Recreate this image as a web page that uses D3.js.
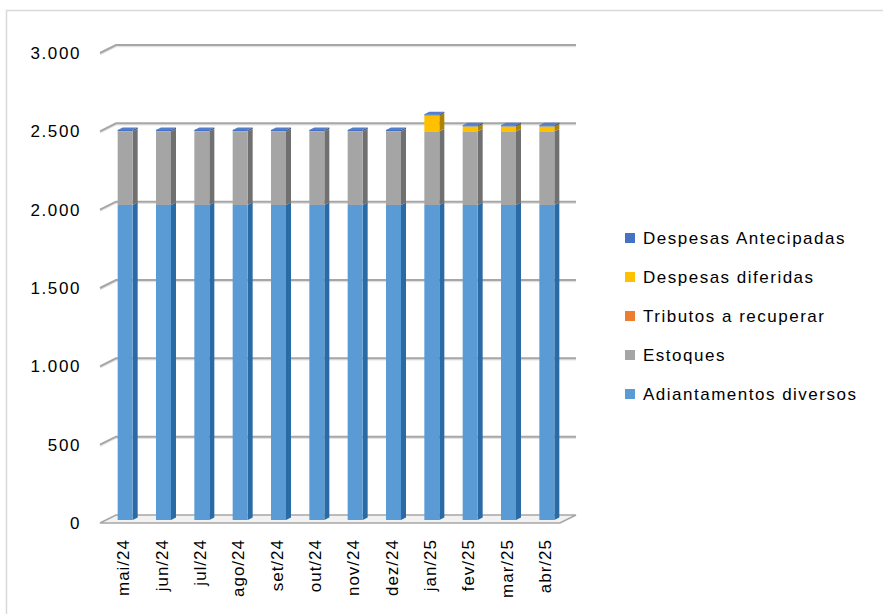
<!DOCTYPE html>
<html><head><meta charset="utf-8">
<script src="https://cdn.jsdelivr.net/npm/d3@7"></script>
<style>body{margin:0;background:#fff}svg{display:block}</style>
</head><body><svg id="c" width="883" height="614"></svg>
<script>
const categories = ["mai/24","jun/24","jul/24","ago/24","set/24","out/24","nov/24","dez/24","jan/25","fev/25","mar/25","abr/25"];
const adiantamentos = [2010,2010,2010,2010,2010,2010,2010,2010,2010,2010,2010,2010];
const estoques = [470,470,470,470,470,470,470,470,470,470,470,470];
const tributos = [2,2,2,2,2,2,2,2,2,2,2,2];
const despDiferidas = [0,0,0,0,0,0,0,0,100,30,30,30];
const despAntecipadas = [8,8,8,8,8,8,8,8,8,8,8,8];
const seriesNames = ["Adiantamentos diversos","Estoques","Tributos a recuperar","Despesas diferidas","Despesas Antecipadas"];
const seriesColors = ["#5b9bd5","#a5a5a5","#ed7d31","#ffc000","#4472c4"];
const yTicks = [0,500,1000,1500,2000,2500,3000];

const svg = d3.select("#c");
const FONT = "Liberation Sans, Arial, sans-serif";
const fmt = d3.formatLocale({decimal:",",thousands:".",grouping:[3],currency:["R$",""]}).format(",d");

// chart border
svg.append("rect").attr("x",6.5).attr("y",10.5).attr("width",900).attr("height",700)
  .attr("fill","none").attr("stroke","#d9d9d9").attr("stroke-width",1.5);

const DEPTH = 8; // wall depth; offset per depth unit = (2,-1)
const P = (x,y,d)=>[x+2*d, y-d];
const y = d3.scaleLinear().domain([0,3000]).range([523,53]);
const xFront = d3.scaleBand().domain(categories).range([100,560]);
const xBar = d3.scaleBand().domain(categories).range([106,566]);

const g = svg.append("g");
// floor
const f = [P(100,y(0),0),P(560,y(0),0),P(560,y(0),DEPTH),P(100,y(0),DEPTH)];
g.append("polygon").attr("points",f.map(p=>p.join(",")).join(" "))
  .attr("fill","#f2f2f2").attr("stroke","#a6a6a6").attr("stroke-width",1.5);

// gridlines (back wall + left wall diagonal)
yTicks.forEach(t=>{
  const yy = y(t);
  const a = P(100,yy,0), b = P(100,yy,DEPTH), c = P(560,yy,DEPTH);
  if (t>0) {
    g.append("polyline").attr("points",[[a[0],a[1]+1.5],[b[0],b[1]+1.5],[c[0],c[1]+1.5]].map(p=>p.join(",")).join(" "))
      .attr("fill","none").attr("stroke","#e3e3e3").attr("stroke-width",1.5);
    g.append("polyline").attr("points",[a,b,c].map(p=>p.join(",")).join(" "))
      .attr("fill","none").attr("stroke","#a6a6a6").attr("stroke-width",2);
  }
  svg.append("text").attr("x",81).attr("y",yy+6).attr("text-anchor","end")
    .attr("font-family",FONT).attr("font-size",17).attr("letter-spacing",1.6).attr("fill","#000")
    .text(fmt(t));
});

// stacked bars
const rows = categories.map((c,i)=>({cat:c,
  "Adiantamentos diversos":adiantamentos[i],"Estoques":estoques[i],"Tributos a recuperar":tributos[i],
  "Despesas diferidas":despDiferidas[i],"Despesas Antecipadas":despAntecipadas[i]}));
const stack = d3.stack().keys(seriesNames)(rows);
const bw = 15, d0 = 3, d1 = 5.5;
const shade=(c,k)=>{const h=d3.hsl(c);h.l*=k;return h.toString();};
categories.forEach((cat,i)=>{
  const x0 = xBar(cat)+xBar.bandwidth()/2-bw/2 - 6, x1 = x0+bw; // front-plane coords
  const segs = stack.map((s,k)=>({k,lo:s[i][0],hi:s[i][1]})).filter(s=>s.hi>s.lo);
  segs.forEach((s,j)=>{
    const col = seriesColors[s.k];
    const yl = y(s.lo), yh = y(s.hi);
    const side=[P(x1,yl,d0),P(x1,yh,d0),P(x1,yh,d1),P(x1,yl,d1)];
    g.append("polygon").attr("points",side.map(p=>p.join(",")).join(" ")).attr("fill",shade(col,0.68));
    const fr=[P(x0,yl,d0),P(x1,yl,d0),P(x1,yh,d0),P(x0,yh,d0)];
    g.append("polygon").attr("points",fr.map(p=>p.join(",")).join(" ")).attr("fill",col);
    if (j===segs.length-1){
      const top=[P(x0,yh,d0),P(x1,yh,d0),P(x1,yh,d1),P(x0,yh,d1)];
      g.append("polygon").attr("points",top.map(p=>p.join(",")).join(" ")).attr("fill",shade(col,1.08));
    }
  });
});

// x labels
categories.forEach(cat=>{
  const cx = xFront(cat)+xFront.bandwidth()/2+4;
  svg.append("text").attr("transform",`translate(${cx+6},539) rotate(-90)`)
    .attr("text-anchor","end").attr("font-family",FONT).attr("letter-spacing",1)
    .attr("font-size",17).attr("fill","#000").text(cat);
});

// legend
const legendOrder = [4,3,2,1,0];
legendOrder.forEach((k,i)=>{
  const ly = 238 + i*39;
  svg.append("rect").attr("x",625).attr("y",ly-5).attr("width",10).attr("height",10).attr("fill",seriesColors[k]);
  svg.append("text").attr("x",643).attr("y",ly+6).attr("font-family",FONT).attr("letter-spacing",1.5)
    .attr("font-size",17).attr("fill","#000").text(seriesNames[k]);
});
</script></body></html>
